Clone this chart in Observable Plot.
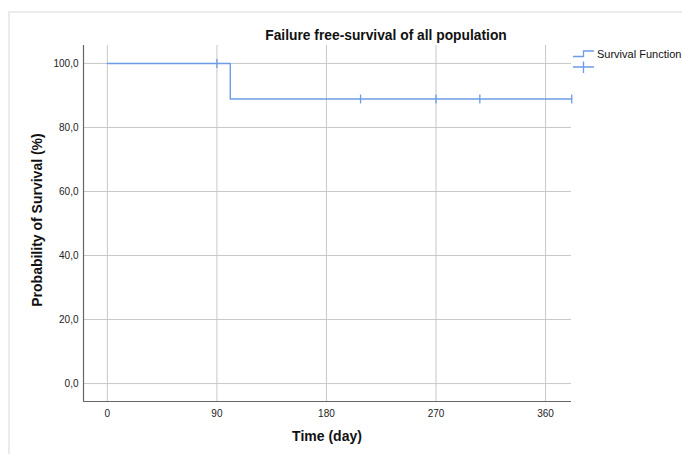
<!DOCTYPE html>
<html>
<head>
<meta charset="utf-8">
<script src="https://cdn.jsdelivr.net/npm/d3@7"></script>
<script src="https://cdn.jsdelivr.net/npm/@observablehq/plot@0.6"></script>
<style>
  html, body { margin: 0; padding: 0; background: #fff; }
  #wrap { position: relative; width: 682px; height: 454px; overflow: hidden; font-family: "Liberation Sans", Arial, sans-serif; }
  #frame { position: absolute; left: 8px; top: 11px; width: 700px; height: 460px; border-left: 2px solid #ebebeb; border-top: 2px solid #ebebeb; }
  #chart { position: absolute; left: 0; top: 0; }
  .title { position: absolute; left: 386px; top: 28px; transform: translateX(-50%); font-weight: bold; font-size: 13.8px; white-space: nowrap; color: #111; }
  .xlab { position: absolute; left: 327px; top: 428px; transform: translateX(-50%); font-weight: bold; font-size: 14px; white-space: nowrap; color: #111; }
  .ylab { position: absolute; left: 37px; top: 220px; transform: translate(-50%, -50%) rotate(-90deg); font-weight: bold; font-size: 14px; white-space: nowrap; color: #111; }
  .leg { position: absolute; left: 597px; top: 48px; font-size: 11px; white-space: nowrap; color: #111; }
</style>
</head>
<body>
<div id="wrap">
  <div id="frame"></div>
  <div id="chart"></div>
  <div class="title">Failure free-survival of all population</div>
  <div class="xlab">Time (day)</div>
  <div class="ylab">Probability of Survival (%)</div>
  <svg style="position:absolute;left:0;top:0" width="682" height="454">
    <path d="M573,56.5H583.5V51H594" fill="none" stroke="#6b9de6" stroke-width="1.3"/>
    <path d="M573,67H594M583.5,61.5V73" fill="none" stroke="#6b9de6" stroke-width="1.3"/>
  </svg>
  <div class="leg">Survival Function</div>
</div>
<script>
// Kaplan-Meier step curve (time in days, survival in %)
const stepTimes = [0, 101, 381.5];
const stepSurvival = [100, 88.9, 88.9];
// Censored observations
const censorTimes = [90, 208, 270, 306, 381.5];
const censorSurvival = [100, 88.9, 88.9, 88.9, 88.9];
// Axis ticks
const xTicks = [0, 90, 180, 270, 360];
const yTicks = [0, 20, 40, 60, 80, 100];

const xDomain = [-19.6, 381.3];
const yDomain = [-5.6, 105.6];
const lineColor = "#6b9de6";

const steps = stepTimes.map((t, i) => ({t, s: stepSurvival[i]}));
const censors = censorTimes.map((t, i) => ({t, s: censorSurvival[i]}));

const vbar = {
  draw(context, size) {
    const r = 4.5;
    context.moveTo(0, -r);
    context.lineTo(0, r);
  }
};

const chart = Plot.plot({
  width: 682,
  height: 454,
  marginLeft: 83,
  marginRight: 111,
  marginTop: 45,
  marginBottom: 53,
  style: {fontFamily: "Liberation Sans, Arial, sans-serif", fontSize: "10px", color: "#222", background: "transparent"},
  x: {domain: xDomain, ticks: xTicks, label: null},
  y: {domain: yDomain, ticks: yTicks, label: null},
  marks: [
    Plot.ruleX(xTicks, {stroke: "#c8c8c8", strokeOpacity: 1, strokeWidth: 1}),
    Plot.ruleY(yTicks, {stroke: "#c8c8c8", strokeOpacity: 1, strokeWidth: 1}),
    Plot.ruleX([xDomain[0]], {stroke: "#666", strokeWidth: 1.2}),
    Plot.ruleY([yDomain[0]], {stroke: "#666", strokeWidth: 1.2}),
    Plot.axisX({ticks: xTicks, tickSize: 0, tickPadding: 8, label: null, fontSize: 10, fill: "#222"}),
    Plot.axisY({ticks: yTicks, tickSize: 0, tickPadding: 5, label: null, fontSize: 10, fill: "#222",
      tickFormat: d => d.toFixed(1).replace(".", ",")}),
    Plot.line(steps, {x: "t", y: "s", curve: "step-after", stroke: lineColor, strokeWidth: 1.4}),
    Plot.dot(censors, {x: "t", y: "s", symbol: vbar, stroke: lineColor, strokeWidth: 1.3, r: 4})
  ]
});
document.getElementById("chart").appendChild(chart);
</script>
</body>
</html>
